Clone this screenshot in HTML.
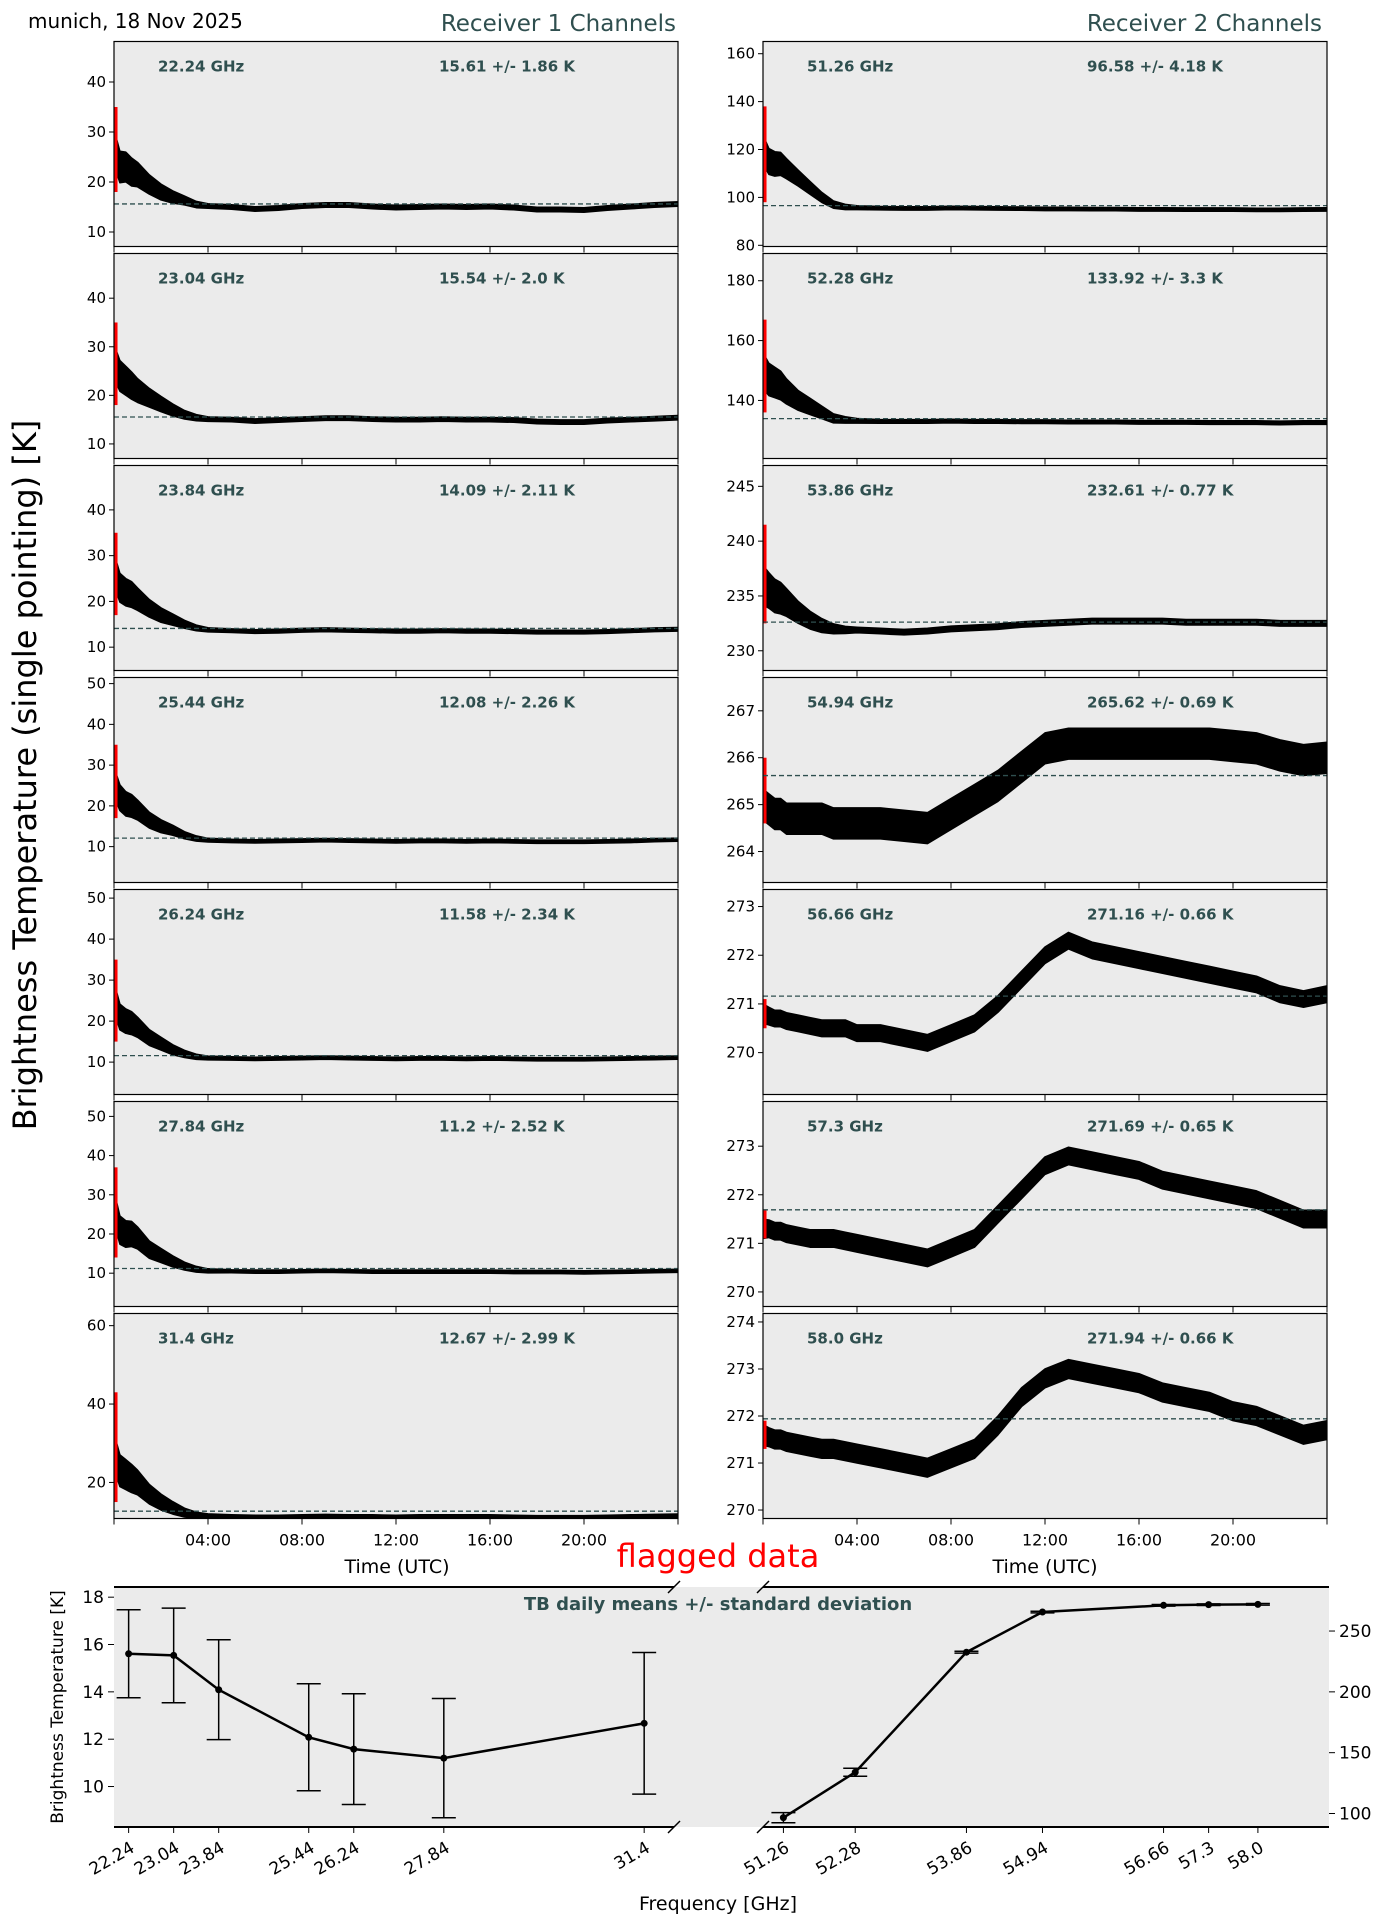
<!DOCTYPE html>
<html><head><meta charset="utf-8">
<style>
html,body{margin:0;padding:0;background:#fff;}
svg{display:block;font-family:"DejaVu Sans","Liberation Sans",sans-serif;}
</style></head>
<body>
<svg id="fig" width="1384" height="1927" viewBox="0 0 1384 1927" xmlns="http://www.w3.org/2000/svg">
<text x="28" y="28" font-size="20" fill="#000">munich, 18 Nov 2025</text>
<text x="676" y="31" font-size="23" fill="#2f4f4f" text-anchor="end">Receiver 1 Channels</text>
<text x="1322" y="31" font-size="23" fill="#2f4f4f" text-anchor="end">Receiver 2 Channels</text>
<text transform="translate(27,775) rotate(-90)" font-size="32" text-anchor="middle" dominant-baseline="middle">Brightness Temperature (single pointing) [K]</text>
<text x="397" y="1573" font-size="19" text-anchor="middle">Time (UTC)</text>
<text x="1045" y="1573" font-size="19" text-anchor="middle">Time (UTC)</text>
<text x="718" y="1567" font-size="32" fill="#ff0000" text-anchor="middle">flagged data</text>
<g id="panels"></g>
<g id="bottom"></g>
</svg>
<script>
// ---- time series data ----
const times = [0,0.25,0.5,0.75,1,1.5,2,2.5,3,3.5,4,5,6,7,8,9,10,11,12,13,14,15,16,17,18,19,20,21,22,23,24];
const spreadShape = [1,0.9,0.85,0.8,0.7,0.55,0.45,0.35,0.25,0.18,0.13,0.1,0.1,0.1,0.1,0.1,0.1,0.1,0.1,0.1,0.1,0.1,0.1,0.1,0.1,0.1,0.1,0.1,0.1,0.1,0.1];
const freqsL = ['22.24','23.04','23.84','25.44','26.24','27.84','31.4'];
const meansL = [15.61,15.54,14.09,12.08,11.58,11.2,12.67];
const stdsL = [1.86,2.0,2.11,2.26,2.34,2.52,2.99];
const freqsR = ['51.26','52.28','53.86','54.94','56.66','57.3','58.0'];
const meansR = [96.58,133.92,232.61,265.62,271.16,271.69,271.94];
const stdsR = [4.18,3.3,0.77,0.69,0.66,0.65,0.66];
const v2224 = [27,23,23,22,21.5,19.5,18,17,16.3,15.5,15.2,15,14.6,14.8,15.2,15.4,15.4,15.1,14.9,15,15.1,15,15.1,14.9,14.5,14.5,14.4,14.8,15.1,15.4,15.6];
const v2304 = [27,24,23,22,21,19.5,18.2,17,16,15.4,15.1,15,14.7,14.9,15.1,15.3,15.3,15.1,15,15,15.1,15,15,14.9,14.6,14.5,14.5,14.8,15,15.2,15.4];
const v2384 = [27,23,22,21.5,20.5,18.5,17,16,15,14.2,13.8,13.6,13.4,13.5,13.7,13.8,13.7,13.6,13.5,13.5,13.6,13.5,13.5,13.4,13.3,13.3,13.3,13.4,13.6,13.8,13.9];
const v2544 = [26,22,20.5,20,19,16.5,15,14,12.8,12,11.6,11.4,11.3,11.4,11.5,11.6,11.5,11.4,11.3,11.4,11.4,11.3,11.4,11.3,11.2,11.2,11.2,11.3,11.4,11.6,11.7];
const v2624 = [26,21,20,19.5,18.5,16,14.5,13,12,11.3,11,10.9,10.8,10.9,11,11.1,11,10.9,10.8,10.9,10.9,10.8,10.9,10.8,10.7,10.7,10.7,10.8,10.9,11,11.1];
const v2784 = [27,21,20,20,19,16,14.5,13,11.8,11,10.6,10.5,10.4,10.4,10.5,10.6,10.5,10.4,10.4,10.4,10.4,10.4,10.4,10.3,10.3,10.3,10.2,10.3,10.4,10.5,10.6];
const v3140 = [28,23,22,21,20,17,15,13.5,12.3,11.6,11.4,11.3,11.2,11.2,11.3,11.4,11.3,11.3,11.2,11.3,11.3,11.3,11.3,11.2,11.1,11.1,11.1,11.2,11.3,11.4,11.5];
const v5126 = [120,115,114,114,112,108,104,100,97,96,95.7,95.5,95.4,95.4,95.6,95.5,95.4,95.3,95.2,95.2,95.1,95.1,95,95,94.9,94.9,94.9,94.8,94.8,94.9,95];
const v5228 = [150,147,146,145,143,140,138,136,134,133.5,133.2,133,133,133,133.1,133,133,132.9,132.9,132.8,132.8,132.8,132.7,132.7,132.7,132.6,132.6,132.6,132.5,132.6,132.6];
const v5386 = [236,235.5,235,234.8,234.4,233.5,232.8,232.3,232,231.9,231.9,231.8,231.7,231.8,232,232.1,232.2,232.4,232.5,232.6,232.7,232.7,232.7,232.7,232.6,232.6,232.6,232.6,232.5,232.5,232.5];
const v5494 = [265,264.9,264.8,264.8,264.7,264.7,264.7,264.7,264.6,264.6,264.6,264.6,264.55,264.5,264.8,265.1,265.4,265.8,266.2,266.3,266.3,266.3,266.3,266.3,266.3,266.3,266.25,266.2,266.05,265.95,266.0];
const v5666 = [270.8,270.75,270.7,270.7,270.65,270.6,270.55,270.5,270.5,270.5,270.4,270.4,270.3,270.2,270.4,270.6,271,271.5,272,272.3,272.1,272,271.9,271.8,271.7,271.6,271.5,271.4,271.2,271.1,271.2];
const v5730 = [271.3,271.3,271.25,271.25,271.2,271.15,271.1,271.1,271.1,271.05,271,270.9,270.8,270.7,270.9,271.1,271.6,272.1,272.6,272.8,272.7,272.6,272.5,272.3,272.2,272.1,272,271.9,271.7,271.5,271.5];
const v5800 = [271.6,271.55,271.5,271.5,271.45,271.4,271.35,271.3,271.3,271.25,271.2,271.1,271,270.9,271.1,271.3,271.8,272.4,272.8,273,272.9,272.8,272.7,272.5,272.4,272.3,272.1,272,271.8,271.6,271.7];
const flagLo = [18,18,17,17,15,14,15, 98,136,232.5,264.6,270.5,271.1,271.3];
const flagHi = [35,35,35,35,35,37,43, 138,167,241.5,266,271.1,271.7,271.9];
const xTickLabels = ['04:00','08:00','12:00','16:00','20:00'];
const xTickHours = [4,8,12,16,20];

const NS='http://www.w3.org/2000/svg';
function mk(tag,attrs,parent){const e=document.createElementNS(NS,tag);for(const k in attrs)e.setAttribute(k,attrs[k]);parent.appendChild(e);return e;}
function fmt(v){return Number.isInteger(v)?v.toFixed(1):String(v);}

const seriesVals=[v2224,v2304,v2384,v2544,v2624,v2784,v3140,v5126,v5228,v5386,v5494,v5666,v5730,v5800];
const ylims=[[7.1,48.1],[7,49.2],[4.9,49.7],[1.2,51.5],[2.1,52.1],[1.5,53.8],[10.8,63.1],
 [79.5,165.1],[120.6,189.1],[228.2,246.9],[263.34,267.71],[269.14,273.35],[269.7,273.92],[269.82,274.18]];
const yticks=[[10,20,30,40],[10,20,30,40],[10,20,30,40],[10,20,30,40,50],[10,20,30,40,50],[10,20,30,40,50],[20,40,60],
 [80,100,120,140,160],[140,160,180],[230,235,240,245],[264,265,266,267],[270,271,272,273],[270,271,272,273],[270,271,272,273,274]];
const spreadScale=[3.5,3.5,3.5,3.5,3.5,4,4.5, 6,6,1.8,0.3,0.2,0.2,0.22];
const spreadFloor=[0.45,0.45,0.4,0.4,0.4,0.4,0.45, 0.7,0.6,0.25,0.33,0.17,0.18,0.2];

const panels=document.getElementById('panels');
for(let i=0;i<14;i++){
  const right=i>=7, row=i%7;
  const X0=right?763:114, W=564, Y0=41.5+212*row, H=205;
  const [lo,hi]=ylims[i];
  const sx=t=>X0+t/24*W;
  const sy=v=>Y0+H-(v-lo)/(hi-lo)*H;
  const g=mk('g',{},panels);
  
  
  const cid='clip'+i;
  const cp=mk('clipPath',{id:cid},g); mk('rect',{x:X0,y:Y0,width:W,height:H},cp);
  const bg=mk('rect',{x:X0,y:Y0,width:W,height:H,fill:'#ebebeb'},g);
  
  
  const inner=mk('g',{'clip-path':'url(#'+cid+')'},g);
  const vals=seriesVals[i];
  let up=[],dn=[];
  for(let k=0;k<times.length;k++){
    const s=Math.max(spreadFloor[i],spreadScale[i]*spreadShape[k]);
    up.push(sx(times[k]).toFixed(1)+','+sy(vals[k]+s).toFixed(1));
    dn.unshift(sx(times[k]).toFixed(1)+','+sy(vals[k]-s).toFixed(1));
  }
  const band=mk('polygon',{points:up.concat(dn).join(' '),fill:'#000',stroke:'#000','stroke-width':1.5,'stroke-linejoin':'round'},inner);
  
  
  const fl=mk('rect',{x:sx(0),y:sy(flagHi[i]),width:sx(0.15)-sx(0),height:sy(flagLo[i])-sy(flagHi[i]),fill:'#ff0000'},inner);
  
  
  const mean=right?meansR[row]:meansL[row];
  const ml=mk('line',{x1:X0,x2:X0+W,y1:sy(mean),y2:sy(mean),stroke:'#2f4f4f','stroke-width':1.3,'stroke-dasharray':'5,3'},inner);
  
  
  const fr=mk('text',{x:X0+44,y:Y0+30,'font-size':15,'font-weight':'bold',fill:'#2f4f4f'},g);
  fr.textContent=(right?freqsR[row]:freqsL[row])+' GHz';
  
  
  const st=mk('text',{x:X0+(right?324:325),y:Y0+30,'font-size':15,'font-weight':'bold',fill:'#2f4f4f'},g);
  st.textContent=(right?meansR[row]:meansL[row])+' +/- '+fmt(right?stdsR[row]:stdsL[row])+' K';
  
  
  mk('rect',{x:X0,y:Y0,width:W,height:H,fill:'none',stroke:'#000','stroke-width':1.2},g);
  for(const t of yticks[i]){
    const y=sy(t); if(y<Y0||y>Y0+H) continue;
    mk('line',{x1:X0-5,x2:X0,y1:y,y2:y,stroke:'#000'},g);
    const tl=mk('text',{x:X0-8,y:y+5,'font-size':15,'text-anchor':'end'},g);
    tl.textContent=t;
    
    
  }
  for(let h=0;h<=24;h+=4){
    mk('line',{x1:sx(h),x2:sx(h),y1:Y0+H,y2:Y0+H+6,stroke:'#000'},g);
  }
  if(row===6){
    xTickHours.forEach((h,k)=>{
      const xl=mk('text',{x:sx(h),y:Y0+H+27,'font-size':16,'text-anchor':'middle'},g);
      xl.textContent=xTickLabels[k];
      
      
    });
  }
}

// ---- bottom summary chart ----
const fL=[22.24,23.04,23.84,25.44,26.24,27.84,31.4];
const fR=[51.26,52.28,53.86,54.94,56.66,57.3,58.0];
const fLabelsR=['51.26','52.28','53.86','54.94','56.66','57.3','58.0'];
const ticksBL=[10,12,14,16,18];
const ticksBR=[100,150,200,250];
const bot=document.getElementById('bottom');
const BY0=1587, BY1=1827;
const sxL=f=>114+(f-21.98)/(31.93-21.98)*(674-114);
const sxR=f=>763+(f-50.97)/(59.01-50.97)*(1329-763);
const syL=v=>BY1-(v-8.29)/(18.43-8.29)*(BY1-BY0);
const syR=v=>BY1-(v-88.9)/(286.2-88.9)*(BY1-BY0);
const bgL=mk('rect',{x:114,y:BY0,width:560,height:BY1-BY0,fill:'#ebebeb'},bot);


const bgR=mk('rect',{x:763,y:BY0,width:566,height:BY1-BY0,fill:'#ebebeb'},bot);


mk('rect',{x:674,y:BY0,width:89,height:BY1-BY0,fill:'#ebebeb'},bot);
[[114,674],[763,1329]].forEach(([a,b])=>{
  mk('line',{x1:a,x2:b,y1:BY0,y2:BY0,stroke:'#000','stroke-width':2},bot);
  mk('line',{x1:a,x2:b,y1:BY1,y2:BY1,stroke:'#000','stroke-width':2},bot);
});
[674,763].forEach(x=>{[BY0,BY1].forEach(y=>{
  const br=mk('line',{x1:x-6,y1:y+6,x2:x+6,y2:y-6,stroke:'#000','stroke-width':1.5},bot);
  
  
});});
function series(fs,ms,ss,sx,sy,name){
  const g=mk('g',{},bot);
  
  
  fs.forEach((f,k)=>{
    const x=sx(f),yt=sy(ms[k]+ss[k]),yb=sy(ms[k]-ss[k]);
    mk('line',{x1:x,x2:x,y1:yt,y2:yb,stroke:'#000','stroke-width':1.5},g);
    mk('line',{x1:x-12,x2:x+12,y1:yt,y2:yt,stroke:'#000','stroke-width':1.5},g);
    mk('line',{x1:x-12,x2:x+12,y1:yb,y2:yb,stroke:'#000','stroke-width':1.5},g);
  });
  mk('polyline',{points:fs.map((f,k)=>sx(f)+','+sy(ms[k])).join(' '),fill:'none',stroke:'#000','stroke-width':2.5},g);
  fs.forEach((f,k)=>{
    const c=mk('circle',{cx:sx(f),cy:sy(ms[k]),r:3.5,fill:'#000'},g);
    
    
  });
}
series(fL,meansL,stdsL,sxL,syL,'receiver-1-means');
series(fR,meansR,stdsR,sxR,syR,'receiver-2-means');
ticksBL.forEach(t=>{const y=syL(t);mk('line',{x1:108,x2:114,y1:y,y2:y,stroke:'#000'},bot);
  const l=mk('text',{x:104,y:y+6,'font-size':17,'text-anchor':'end'},bot);l.textContent=t;
  
  });
ticksBR.forEach(t=>{const y=syR(t);mk('line',{x1:1329,x2:1335,y1:y,y2:y,stroke:'#000'},bot);
  const l=mk('text',{x:1339,y:y+6,'font-size':17},bot);l.textContent=t;
  
  });
function xt(fs,labels,sx){fs.forEach((f,k)=>{const x=sx(f);mk('line',{x1:x,x2:x,y1:BY1,y2:BY1+6,stroke:'#000'},bot);
  const l=mk('text',{transform:'translate('+(x+7)+','+(BY1+24)+') rotate(-30)','font-size':17,'text-anchor':'end'},bot);
  l.textContent=labels[k];
  
  });}
xt(fL,freqsL,sxL); xt(fR,fLabelsR,sxR);
const tb=mk('text',{x:718,y:1610,'font-size':18,'font-weight':'bold',fill:'#2f4f4f','text-anchor':'middle'},bot);
tb.textContent='TB daily means +/- standard deviation';


const yl=mk('text',{transform:'translate(63,1707) rotate(-90)','font-size':17,'text-anchor':'middle'},bot);
yl.textContent='Brightness Temperature [K]';


const xl=mk('text',{x:718,y:1910,'font-size':19,'text-anchor':'middle'},bot);
xl.textContent='Frequency [GHz]';


</script>
</body></html>
